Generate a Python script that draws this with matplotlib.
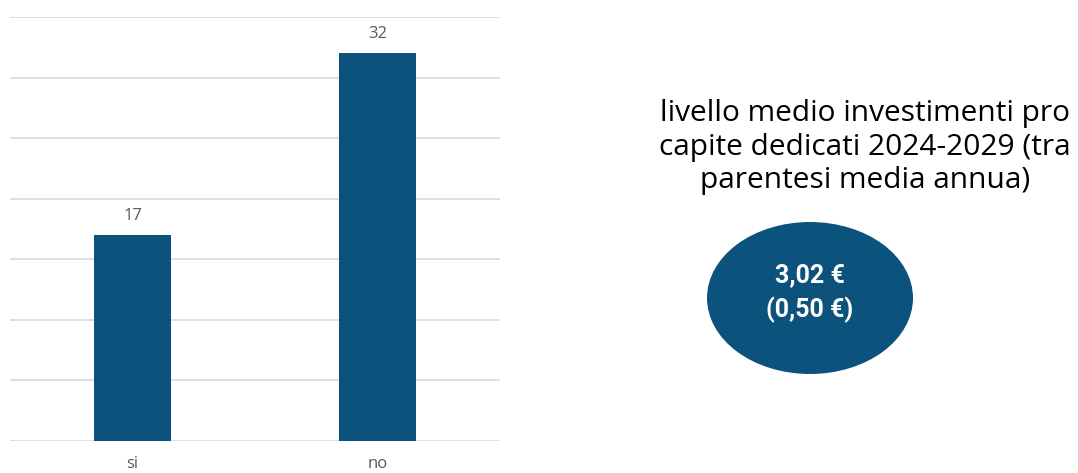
import matplotlib.pyplot as plt
from matplotlib.patches import Ellipse

categories = ['si', 'no']
counts = [17, 32]
media_totale = '3,02 €'
media_annua = '(0,50 €)'
titolo = 'livello medio investimenti pro\ncapite dedicati 2024-2029 (tra\nparentesi media annua)'

blu = '#0b527c'
grigio = '#595959'

plt.rcParams['font.family'] = ['Open Sans', 'DejaVu Sans']

fig = plt.figure(figsize=(10.78, 4.73), dpi=100, facecolor='w')
ax = fig.add_axes([10/1078, 1 - 441/473, 490/1078, 424/473])

x = range(len(categories))
bars = ax.bar(x, counts, width=0.315, color=blu, zorder=3)
for b, v in zip(bars, counts):
    ax.annotate(str(v), (b.get_x() + b.get_width()/2, v), xytext=(0, 8),
                textcoords='offset points', ha='center', va='bottom',
                fontsize=12, color=grigio)

ax.set_xlim(-0.5, 1.5)
ax.set_ylim(0, 35)
ax.set_yticks(range(0, 36, 5))
ax.set_yticklabels([])
ax.set_xticks(list(x))
ax.set_xticklabels(categories, fontsize=12, color=grigio)
ax.tick_params(axis='both', length=0)
ax.tick_params(axis='x', pad=11)
ax.grid(True, axis='y', color='#d9d9d9', linewidth=1.2, zorder=0)
for s in ax.spines.values():
    s.set_visible(False)

fig.text(865/1078, 1 - 147/473, titolo, ha='center', va='center',
         fontsize=21.5, color='black', linespacing=1.2)

fig.add_artist(Ellipse((810/1078, 1 - 298/473), 206/1078, 152/473,
                       transform=fig.transFigure, facecolor=blu, edgecolor='none'))
fig.text(810/1078, 1 - 293/473, media_totale + '\n' + media_annua, ha='center', va='center',
         family=['Roboto', 'DejaVu Sans'], fontsize=18, fontweight='bold',
         color='white', linespacing=1.45)

fig.savefig('out.png', dpi=100)
